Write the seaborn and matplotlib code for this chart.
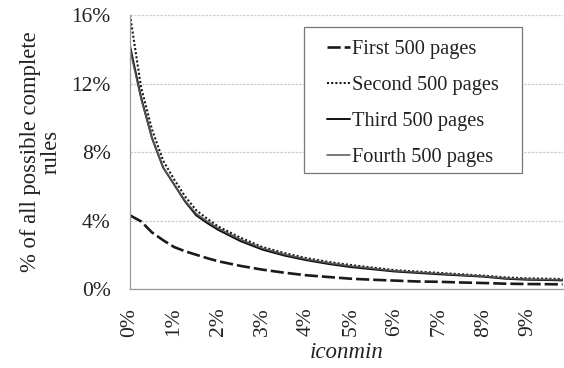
import numpy as np
import pandas as pd
import matplotlib
matplotlib.use("Agg")
import matplotlib.pyplot as plt
from matplotlib.patches import Rectangle
import seaborn as sns

# iconmin values (%)
iconmin = [0, 0.25, 0.5, 0.75, 1, 1.25, 1.5, 1.75, 2, 2.5, 3, 3.5, 4, 4.5,
           5, 5.5, 6, 6.5, 7, 7.5, 8, 8.5, 9, 9.5, 9.8]
first = [4.3, 3.95, 3.3, 2.85, 2.45, 2.2, 2.0, 1.8, 1.62, 1.35, 1.13, 0.95, 0.8, 0.7,
         0.6, 0.54, 0.49, 0.44, 0.42, 0.38, 0.35, 0.31, 0.29, 0.28, 0.27]
second = [16.0, 11.8, 9.3, 7.5, 6.4, 5.4, 4.6, 4.1, 3.65, 3.0, 2.45, 2.1, 1.8, 1.58,
          1.4, 1.25, 1.1, 1.02, 0.94, 0.86, 0.78, 0.68, 0.62, 0.6, 0.58]
third = [14.2, 11.2, 8.8, 7.1, 6.1, 5.1, 4.3, 3.85, 3.45, 2.8, 2.3, 1.95, 1.68, 1.46,
         1.28, 1.15, 1.02, 0.94, 0.86, 0.79, 0.72, 0.6, 0.54, 0.52, 0.5]
fourth = [14.0, 11.1, 8.8, 7.1, 6.1, 5.15, 4.4, 3.95, 3.55, 2.9, 2.38, 2.02, 1.74, 1.52,
          1.34, 1.2, 1.06, 0.98, 0.9, 0.82, 0.75, 0.63, 0.57, 0.55, 0.53]
series_names = ["First 500 pages", "Second 500 pages", "Third 500 pages", "Fourth 500 pages"]
xtick_vals = [0, 1, 2, 3, 4, 5, 6, 7, 8, 9]
ytick_vals = [0, 4, 8, 12, 16]

df = pd.DataFrame({
    "iconmin": iconmin * 4,
    "value": first + second + third + fourth,
    "series": np.repeat(series_names, len(iconmin)),
})

sns.set_theme(style="white")
plt.rcParams["font.family"] = ["Liberation Serif", "DejaVu Serif"]

fig = plt.figure(figsize=(5.64, 3.68), dpi=100)
ax = fig.add_axes([0.2305, 0.2147, 0.767, 0.7443])

styles = {
    "First 500 pages": dict(color="#1a1a1a", lw=1.9, ls=(0, (5, 1.5))),
    "Second 500 pages": dict(color="#1a1a1a", lw=1.5, ls=(0, (1, 1))),
    "Third 500 pages": dict(color="#111111", lw=1.4, ls="-"),
    "Fourth 500 pages": dict(color="#555555", lw=1.1, ls="-"),
}
for name in series_names:
    sub = df[df["series"] == name]
    st = styles[name]
    sns.lineplot(data=sub, x="iconmin", y="value", ax=ax, label=name,
                 color=st["color"], linewidth=st["lw"], linestyle=st["ls"])

ax.set_xlim(0, 9.8)
ax.set_ylim(0, 16)
ax.set_xticks(xtick_vals)
ax.set_xticklabels([f"{v}%" for v in xtick_vals], rotation=90, fontsize=15.5, color="#222222")
ax.set_yticks(ytick_vals)
ax.set_yticklabels([f"{v}%" for v in ytick_vals], fontsize=15.5, color="#222222")
ax.tick_params(axis="x", direction="out", length=6, width=0.8, color="#999999", pad=7.5)
ax.tick_params(axis="y", direction="out", length=5, width=0.8, color="#999999", pad=9)
ax.yaxis.grid(True, color="#cccccc", linestyle=(0, (2, 1)), linewidth=0.9)
ax.xaxis.grid(False)
for s in ["top", "right"]:
    ax.spines[s].set_visible(False)
for s in ["left", "bottom"]:
    ax.spines[s].set_color("#999999")
    ax.spines[s].set_linewidth(0.9)

ax.set_xlabel("iconmin", fontsize=16.5, fontstyle="italic", labelpad=4, color="#222222")
ax.set_ylabel("% of all possible complete\nrules", fontsize=16.3, labelpad=7,
              linespacing=0.95, color="#222222")

# legend frame (white box with gray border)
frame = Rectangle((0.402, 0.423), 0.504, 0.533, transform=ax.transAxes,
                  facecolor="white", edgecolor="#777777", linewidth=0.9, zorder=4)
ax.add_patch(frame)

leg = ax.legend(loc="upper left", bbox_to_anchor=(0.455, 0.911), fontsize=14.7,
                frameon=False, handlelength=1.15, handletextpad=0.1,
                labelspacing=0.82, borderpad=0, borderaxespad=0)
leg.set_zorder(5)
for t in leg.get_texts():
    t.set_color("#222222")

fig.savefig("out.png", dpi=100)
